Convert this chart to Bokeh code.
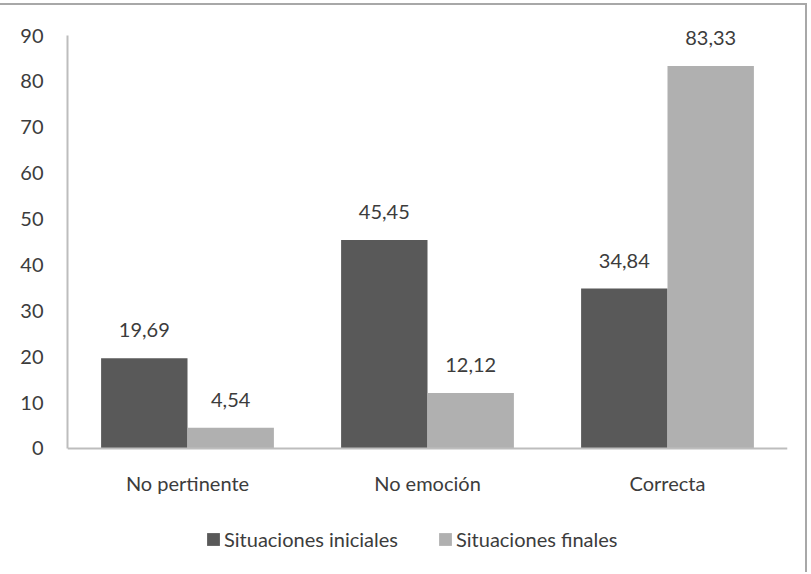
from bokeh.plotting import figure
from bokeh.models import ColumnDataSource, FactorRange, Range1d, FixedTicker, LabelSet, Legend, LegendItem
from bokeh.transform import dodge
from bokeh.core.properties import value
from bokeh.embed import file_html
from bokeh.resources import INLINE

categories = ["No pertinente", "No emoción", "Correcta"]
series_names = ["Situaciones iniciales", "Situaciones finales"]
iniciales = [19.69, 45.45, 34.84]
finales = [4.54, 12.12, 83.33]
y_ticks = [0, 10, 20, 30, 40, 50, 60, 70, 80, 90]

FONT = "Lato"
TXT = "#3c3c3c"
DARK = "#595959"
LIGHT = "#b0b0b0"

def fmt(v):
    return f"{v:.2f}".replace(".", ",")

src = ColumnDataSource(dict(
    cat=categories,
    ini=iniciales,
    fin=finales,
    ini_lbl=[fmt(v) for v in iniciales],
    fin_lbl=[fmt(v) for v in finales],
))

# the frame reaches below 0 and above 90 so the legend and the top label sit inside it
y_top = y_ticks[-1]
p = figure(width=807, height=569, x_range=FactorRange(*categories, range_padding=0),
           y_range=Range1d(-26.37, 95.45), output_backend="svg", toolbar_location=None,
           min_border_left=67, min_border_right=20, min_border_top=5, min_border_bottom=5,
           styles={"margin-top": "3px", "border-top": "2px solid #a8a8a8", "border-right": "2px solid #a8a8a8"})
p.outline_line_color = None
p.xgrid.grid_line_color = None
p.ygrid.grid_line_color = None
p.background_fill_color = "white"
p.border_fill_color = "white"

r1 = p.vbar(x=dodge("cat", -0.18, range=p.x_range), top="ini", width=0.36, source=src,
            fill_color=DARK, line_color=None)
r2 = p.vbar(x=dodge("cat", 0.18, range=p.x_range), top="fin", width=0.36, source=src,
            fill_color=LIGHT, line_color=None)

for col, lbl, off in (("ini", "ini_lbl", -0.18), ("fin", "fin_lbl", 0.18)):
    ls = LabelSet(x=dodge("cat", off, range=p.x_range), y=col, text=lbl, source=src,
                  text_align="center", text_baseline="bottom", y_offset=21,
                  text_font=value(FONT), text_font_size="20px", text_color=TXT)
    p.add_layout(ls)

p.yaxis.ticker = FixedTicker(ticks=y_ticks)
p.yaxis.bounds = (0, y_top)
p.xaxis.fixed_location = 0
for ax in (p.xaxis, p.yaxis):
    ax.axis_line_color = "#bdbdbd"
    ax.axis_line_width = 2
    ax.major_tick_line_color = None
    ax.minor_tick_line_color = None
    ax.major_label_text_font = FONT
    ax.major_label_text_font_size = "20px"
    ax.major_label_text_color = TXT
p.yaxis.major_label_standoff = 18
p.xaxis.major_label_standoff = 17

legend = Legend(items=[LegendItem(label=series_names[0], renderers=[r1]),
                       LegendItem(label=series_names[1], renderers=[r2])],
                location=(138, 18), orientation="horizontal",
                glyph_width=16, glyph_height=16, label_standoff=3, spacing=39,
                padding=0, margin=0, border_line_color=None, background_fill_alpha=0,
                label_text_font=FONT, label_text_font_size="20px", label_text_color=TXT)
p.add_layout(legend, "center")

open("out.html", "w").write(file_html(p, INLINE))
